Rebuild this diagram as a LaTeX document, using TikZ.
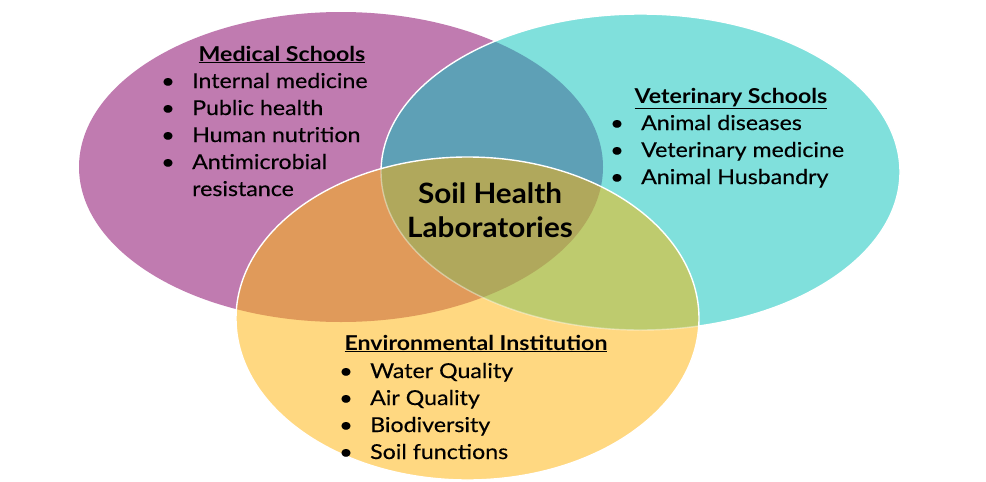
\documentclass[tikz,border=0pt]{standalone}
\usepackage{fontspec}
\setmainfont{Lato}[FakeStretch=1.13,FakeBold=0.35]
\newfontfamily\headfont{Lato Bold}[FakeStretch=1.13]
\newfontfamily\bigfont{Lato Bold}[FakeStretch=1.06]
\definecolor{purp}{HTML}{C07BB0}
\definecolor{cyanc}{HTML}{80E0DC}
\definecolor{yel}{HTML}{FFD881}
\definecolor{bluec}{HTML}{5EA0B6}
\definecolor{orangec}{HTML}{E09A5A}
\definecolor{greenc}{HTML}{BECB6E}
\definecolor{olivec}{HTML}{B0A85C}
\begin{document}
\begin{tikzpicture}[x=1pt,y=-1pt,
  pR/.style={x radius=262,y radius=155},
  cR/.style={x radius=259.5,y radius=158},
  yR/.style={x radius=231.5,y radius=161.5},
  rim/.style={draw=white,line width=1.4pt},
  txt/.style={inner sep=0pt,anchor=base west,font=\fontsize{20.5}{27}\selectfont,text=black},
  head/.style={inner sep=0pt,anchor=base,font=\fontsize{20.5}{27}\headfont,text=black},
  bul/.style={inner sep=0pt,anchor=base,font=\fontsize{20.5}{27}\selectfont,text=black},
  big/.style={inner sep=0pt,anchor=base,font=\fontsize{28}{34}\bigfont,text=black}]
\useasboundingbox (0,0) rectangle (986,482);
\coordinate (pc) at (341,167);
\coordinate (cc) at (640.5,172);
\coordinate (yc) at (467.5,318.5);
% fills
\fill[purp] (pc) ellipse[pR];
\fill[cyanc] (cc) ellipse[cR];
\begin{scope}
  \clip (pc) ellipse[pR];
  \fill[bluec] (cc) ellipse[cR];
\end{scope}
\path[rim] (cc) ellipse[cR];
\fill[yel] (yc) ellipse[yR];
\begin{scope}
  \clip (yc) ellipse[yR];
  \fill[orangec] (pc) ellipse[pR];
  \fill[greenc] (cc) ellipse[cR];
  \begin{scope}
    \clip (pc) ellipse[pR];
    \fill[olivec] (cc) ellipse[cR];
  \end{scope}
  \draw[white,opacity=0.4,line width=1.4pt] (cc) ellipse[cR];
\end{scope}
\path[rim] (yc) ellipse[yR];
% Medical Schools
\node[head] (mh) at (282,61) {\underline{Medical Schools}};
\foreach \t/\yy [count=\i] in {Internal medicine/88,Public health/115,Human nutrition/142,Antimicrobial/169}{
  \node[bul] (mb\i) at (168,\yy) {\textbullet};
  \node[txt] (mt\i) at (192,\yy) {\t};
}
\node[txt] (mt5) at (192,196) {resistance};
% Veterinary Schools
\node[head] (vh) at (731,103) {\underline{Veterinary Schools}};
\foreach \t/\yy [count=\i] in {Animal diseases/130,Veterinary medicine/157,Animal Husbandry/184}{
  \node[bul] (vb\i) at (617,\yy) {\textbullet};
  \node[txt] (vt\i) at (641,\yy) {\t};
}
% Environmental Institution
\node[head] (eh) at (476,350) {\underline{Environmental Institution}};
\foreach \t/\yy [count=\i] in {Water Quality/378,Air Quality/405,Biodiversity/432,Soil functions/459}{
  \node[bul] (eb\i) at (346,\yy) {\textbullet};
  \node[txt] (et\i) at (370,\yy) {\t};
}
% centre
\node[big] (s1) at (490,203) {Soil Health};
\node[big] (s2) at (490,237) {Laboratories};
\end{tikzpicture}
\end{document}
